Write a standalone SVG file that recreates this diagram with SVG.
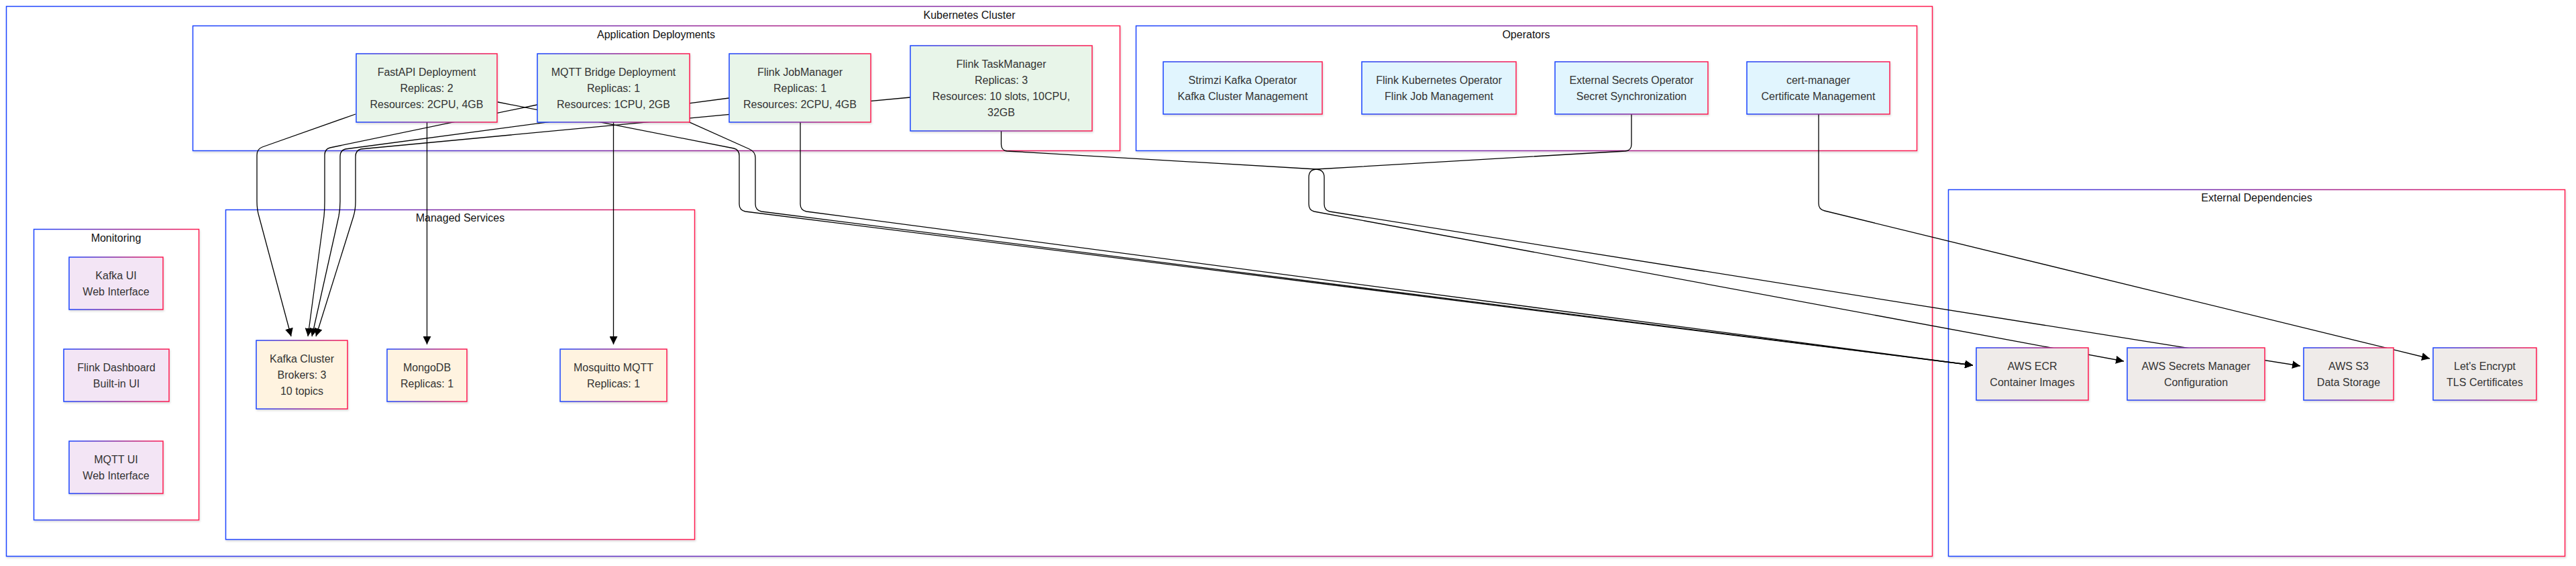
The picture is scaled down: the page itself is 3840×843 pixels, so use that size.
<svg xmlns="http://www.w3.org/2000/svg" width="3840" height="843" viewBox="0 0 3840 843">
<style>
  .cl rect { fill: #ffffff; stroke: url(#gb); stroke-width: 1.5; filter: url(#sh); }
  .ct { font-family: "Liberation Sans", Arial, sans-serif; font-size: 16px; fill: #111; text-anchor: middle; }
  .node rect { stroke: url(#gb); stroke-width: 1.5; filter: url(#sh); }
  .node text { font-family: "Liberation Sans", Arial, sans-serif; font-size: 16px; fill: #333; text-anchor: middle; }
  .app rect { fill: #e8f5e9; }
  .op rect { fill: #e1f5fe; }
  .mon rect { fill: #f3e5f5; }
  .svc rect { fill: #fff3e0; }
  .ext rect { fill: #efebe9; }
  #connectors path { fill: none; stroke: #000; stroke-width: 1.3; stroke-linejoin: round; marker-end: url(#arrow); }
</style>
<defs>
  <linearGradient id="gb" x1="0" y1="0" x2="1" y2="0">
    <stop offset="0" stop-color="#1a44ff"/>
    <stop offset="0.5" stop-color="#8a2aa0"/>
    <stop offset="1" stop-color="#ff1a50"/>
  </linearGradient>
  <filter id="sh" x="-5%" y="-5%" width="112%" height="125%">
    <feDropShadow dx="1" dy="2" stdDeviation="1.5" flood-color="#000" flood-opacity="0.14"/>
  </filter>
  <marker id="arrow" viewBox="0 0 10 10" refX="10" refY="5" markerWidth="12" markerHeight="12" markerUnits="userSpaceOnUse" orient="auto">
    <path d="M0,0 L10,5 L0,10 z" fill="#000"/>
  </marker>
</defs>
<rect width="3840" height="843" fill="#ffffff"/>

<g id="clusters">
  <g id="k8s" class="cl"><rect x="9.5" y="9.5" width="2871" height="819"/><text class="ct" x="1445" y="28">Kubernetes Cluster</text></g>
  <g id="appdeploy" class="cl"><rect x="287.5" y="38.5" width="1382" height="186"/><text class="ct" x="978" y="57">Application Deployments</text></g>
  <g id="operators" class="cl"><rect x="1693.5" y="38.5" width="1164" height="186"/><text class="ct" x="2275" y="57">Operators</text></g>
  <g id="monitoring" class="cl"><rect x="50.5" y="341.5" width="246" height="433"/><text class="ct" x="173" y="360">Monitoring</text></g>
  <g id="managed" class="cl"><rect x="336.5" y="312.5" width="699" height="491"/><text class="ct" x="686" y="330">Managed Services</text></g>
  <g id="external" class="cl"><rect x="2904.5" y="282.5" width="919" height="546"/><text class="ct" x="3364" y="300">External Dependencies</text></g>
</g>

<g id="connectors">
  <path d="M530,170 L391,219 Q383,222 383,231 L383,300 Q383,312 386,322 L434,501"/>
  <path d="M801,156 L492,220 Q484,222 484,231 L484,300 Q484,312 483,322 L459,501"/>
  <path d="M1087,146 L515,222 Q507,224 507,233 L507,300 Q507,312 505,322 L465,501"/>
  <path d="M1357,145 L538,222 Q530,224 530,233 L530,300 Q530,312 527,322 L471,501"/>
  <path d="M636.5,182 L636.5,513"/>
  <path d="M914.5,182 L914.5,513"/>
  <path d="M742,152 L1094,221 Q1102,223 1102,232 L1102,304 Q1102,313 1111,315 L2941,544"/>
  <path d="M914,131 L1117,222 Q1126,226 1126,235 L1126,304 Q1126,313 1135,315 L2941,544"/>
  <path d="M1193,182 L1193,304 Q1193,313 1202,315 L2941,544"/>
  <path d="M1492.5,195 L1492.5,215 Q1492.5,224 1501,225 L1962,252 Q1974,253 1974,264 L1974,304 Q1974,313 1982,315 L3429,545"/>
  <path d="M2432,170 L2432,215 Q2432,224 2423,225 L1962,252 Q1951,253 1951,264 L1951,304 Q1951,313 1959,315 L3166,538"/>
  <path d="M2711,170 L2711,303 Q2711,312 2720,314 L3622,534"/>
</g>

<g id="fastapi" class="node app"><rect x="531" y="80" width="210" height="102"/><text><tspan x="636" y="113">FastAPI Deployment</tspan><tspan x="636" y="137">Replicas: 2</tspan><tspan x="636" y="161">Resources: 2CPU, 4GB</tspan></text></g>
<g id="mqttbridge" class="node app"><rect x="801" y="80" width="227" height="102"/><text><tspan x="914.5" y="113">MQTT Bridge Deployment</tspan><tspan x="914.5" y="137">Replicas: 1</tspan><tspan x="914.5" y="161">Resources: 1CPU, 2GB</tspan></text></g>
<g id="jobmanager" class="node app"><rect x="1087" y="80" width="211" height="102"/><text><tspan x="1192.5" y="113">Flink JobManager</tspan><tspan x="1192.5" y="137">Replicas: 1</tspan><tspan x="1192.5" y="161">Resources: 2CPU, 4GB</tspan></text></g>
<g id="taskmanager" class="node app"><rect x="1357" y="68" width="271" height="127"/><text><tspan x="1492.5" y="101">Flink TaskManager</tspan><tspan x="1492.5" y="125">Replicas: 3</tspan><tspan x="1492.5" y="149">Resources: 10 slots, 10CPU,</tspan><tspan x="1492.5" y="173">32GB</tspan></text></g>

<g id="strimzi" class="node op"><rect x="1734" y="92" width="237" height="78"/><text><tspan x="1852.5" y="125">Strimzi Kafka Operator</tspan><tspan x="1852.5" y="149">Kafka Cluster Management</tspan></text></g>
<g id="flinkop" class="node op"><rect x="2030" y="92" width="230" height="78"/><text><tspan x="2145" y="125">Flink Kubernetes Operator</tspan><tspan x="2145" y="149">Flink Job Management</tspan></text></g>
<g id="extsecrets" class="node op"><rect x="2318" y="92" width="228" height="78"/><text><tspan x="2432" y="125">External Secrets Operator</tspan><tspan x="2432" y="149">Secret Synchronization</tspan></text></g>
<g id="certmanager" class="node op"><rect x="2604" y="92" width="213" height="78"/><text><tspan x="2710.5" y="125">cert-manager</tspan><tspan x="2710.5" y="149">Certificate Management</tspan></text></g>

<g id="kafkaui" class="node mon"><rect x="103" y="383" width="140" height="78"/><text><tspan x="173" y="416">Kafka UI</tspan><tspan x="173" y="440">Web Interface</tspan></text></g>
<g id="flinkdash" class="node mon"><rect x="95" y="520" width="157" height="78"/><text><tspan x="173.5" y="553">Flink Dashboard</tspan><tspan x="173.5" y="577">Built-in UI</tspan></text></g>
<g id="mqttui" class="node mon"><rect x="103" y="657" width="140" height="78"/><text><tspan x="173" y="690">MQTT UI</tspan><tspan x="173" y="714">Web Interface</tspan></text></g>

<g id="kafka" class="node svc"><rect x="382" y="507" width="136" height="102"/><text><tspan x="450" y="540">Kafka Cluster</tspan><tspan x="450" y="564">Brokers: 3</tspan><tspan x="450" y="588">10 topics</tspan></text></g>
<g id="mongodb" class="node svc"><rect x="577" y="520" width="119" height="78"/><text><tspan x="636.5" y="553">MongoDB</tspan><tspan x="636.5" y="577">Replicas: 1</tspan></text></g>
<g id="mosquitto" class="node svc"><rect x="835" y="520" width="159" height="78"/><text><tspan x="914.5" y="553">Mosquitto MQTT</tspan><tspan x="914.5" y="577">Replicas: 1</tspan></text></g>

<g id="ecr" class="node ext"><rect x="2946" y="518" width="167" height="78"/><text><tspan x="3029.5" y="551">AWS ECR</tspan><tspan x="3029.5" y="575">Container Images</tspan></text></g>
<g id="secretsmgr" class="node ext"><rect x="3171" y="518" width="205" height="78"/><text><tspan x="3273.5" y="551">AWS Secrets Manager</tspan><tspan x="3273.5" y="575">Configuration</tspan></text></g>
<g id="s3" class="node ext"><rect x="3434" y="518" width="134" height="78"/><text><tspan x="3501" y="551">AWS S3</tspan><tspan x="3501" y="575">Data Storage</tspan></text></g>
<g id="letsencrypt" class="node ext"><rect x="3627" y="518" width="154" height="78"/><text><tspan x="3704" y="551">Let's Encrypt</tspan><tspan x="3704" y="575">TLS Certificates</tspan></text></g>
</svg>
